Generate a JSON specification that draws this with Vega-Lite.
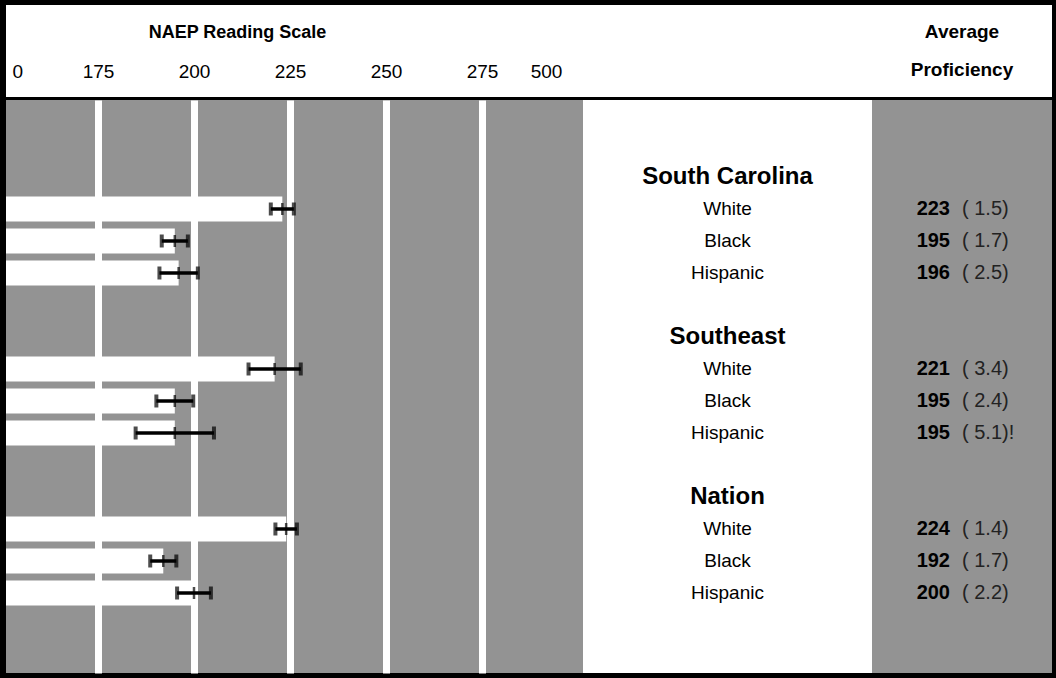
{
  "$schema": "https://vega.github.io/schema/vega-lite/v6.json",
  "background": "black",
  "padding": {"left": 6, "right": 4, "top": 5, "bottom": 5},
  "spacing": 3,
  "config": {"view": {"stroke": null}, "font": "Liberation Sans"},
  "datasets": {
    "rows": [
      {"key": "SC-White", "group": "South Carolina", "race": "White", "score": 223, "se": "( 1.5)", "lo": 220, "hi": 226},
      {"key": "SC-Black", "group": "South Carolina", "race": "Black", "score": 195, "se": "( 1.7)", "lo": 191.6, "hi": 198.4},
      {"key": "SC-Hispanic", "group": "South Carolina", "race": "Hispanic", "score": 196, "se": "( 2.5)", "lo": 191, "hi": 201},
      {"key": "SE-White", "group": "Southeast", "race": "White", "score": 221, "se": "( 3.4)", "lo": 214.2, "hi": 227.8},
      {"key": "SE-Black", "group": "Southeast", "race": "Black", "score": 195, "se": "( 2.4)", "lo": 190.2, "hi": 199.8},
      {"key": "SE-Hispanic", "group": "Southeast", "race": "Hispanic", "score": 195, "se": "( 5.1)!", "lo": 184.8, "hi": 205.2},
      {"key": "NA-White", "group": "Nation", "race": "White", "score": 224, "se": "( 1.4)", "lo": 221.2, "hi": 226.8},
      {"key": "NA-Black", "group": "Nation", "race": "Black", "score": 192, "se": "( 1.7)", "lo": 188.6, "hi": 195.4},
      {"key": "NA-Hispanic", "group": "Nation", "race": "Hispanic", "score": 200, "se": "( 2.2)", "lo": 195.6, "hi": 204.4}
    ],
    "groups": [
      {"key": "SC", "name": "South Carolina"},
      {"key": "SE", "name": "Southeast"},
      {"key": "NA", "name": "Nation"}
    ]
  },
  "vconcat": [
    {
      "spacing": 0,
      "hconcat": [
        {
          "width": 577,
          "height": 92,
          "view": {"fill": "white", "stroke": null},
          "data": {"name": "rows"},
          "mark": {"type": "point", "opacity": 0},
          "encoding": {
            "x": {
              "field": "score",
              "type": "quantitative",
              "scale": {"type": "linear", "domain": [0, 175, 275, 500], "range": [0, 92, 476, 540], "nice": false, "zero": false},
              "axis": {
                "orient": "top",
                "offset": -78,
                "values": [0, 175, 200, 225, 250, 275, 500],
                "labelFontSize": 19,
                "labelColor": "black",
                "labelPadding": 2,
                "labelFlush": false,
                "labelOverlap": false,
                "labelBound": false,
                "labelAlign": {"condition": {"test": "datum.value === 0", "value": "left"}, "value": "center"},
                "labelOffset": {"condition": {"test": "datum.value === 0", "value": 6}, "value": 0},
                "domain": false,
                "ticks": false,
                "grid": false,
                "title": "NAEP Reading Scale",
                "titleFontSize": 18,
                "titleFontWeight": "bold",
                "titleColor": "black",
                "titlePadding": 21,
                "titleX": 231
              }
            }
          }
        },
        {
          "width": 289,
          "height": 92,
          "view": {"fill": "white", "stroke": null},
          "data": {"values": [{"t": ""}]},
          "mark": {"type": "text"},
          "encoding": {"text": {"field": "t"}}
        },
        {
          "width": 180,
          "height": 92,
          "view": {"fill": "white", "stroke": null},
          "data": {"values": [{"line": "Average"}, {"line": "Proficiency"}]},
          "mark": {"type": "text", "fontSize": 19, "fontWeight": "bold", "color": "black", "baseline": "middle"},
          "encoding": {
            "y": {"field": "line", "type": "nominal", "scale": {"type": "band", "domain": ["Average", "Proficiency"], "paddingInner": 0, "paddingOuter": 0.227}, "axis": null},
            "text": {"field": "line"}
          }
        }
      ]
    },
    {
      "spacing": 0,
      "hconcat": [
        {
          "width": 577,
          "height": 573,
          "view": {"fill": "#939393", "stroke": null},
          "data": {"name": "rows"},
          "encoding": {
            "y": {
              "field": "key",
              "type": "nominal",
              "scale": {"type": "band", "domain": ["b0", "SC", "SC-White", "SC-Black", "SC-Hispanic", "b1", "SE", "SE-White", "SE-Black", "SE-Hispanic", "b2", "NA", "NA-White", "NA-Black", "NA-Hispanic", "b3", "b4"], "paddingInner": 0, "paddingOuter": 0.453, "align": 1},
              "axis": null
            }
          },
          "layer": [
            {
              "mark": {"type": "bar", "color": "white", "height": {"band": 0.78}},
              "encoding": {
                "x": {
                  "field": "score",
                  "type": "quantitative",
                  "scale": {"type": "linear", "domain": [0, 175, 275, 500], "range": [0, 92, 476, 540], "nice": false, "zero": false},
                  "axis": {"orient": "top", "values": [175, 200, 225, 250, 275], "labels": false, "ticks": false, "domain": false, "grid": true, "gridColor": "white", "gridWidth": 7, "gridOpacity": 1, "title": null}
                }
              }
            },
            {
              "mark": {"type": "rule", "color": "black", "strokeWidth": 3.5},
              "encoding": {"x": {"field": "lo", "type": "quantitative"}, "x2": {"field": "hi"}}
            },
            {
              "mark": {"type": "tick", "color": "black", "thickness": 4, "size": 13},
              "encoding": {"x": {"field": "lo", "type": "quantitative"}}
            },
            {
              "mark": {"type": "tick", "color": "black", "thickness": 4, "size": 13},
              "encoding": {"x": {"field": "hi", "type": "quantitative"}}
            },
            {
              "mark": {"type": "tick", "color": "black", "thickness": 2.5, "size": 12},
              "encoding": {"x": {"field": "score", "type": "quantitative"}}
            }
          ]
        },
        {
          "width": 289,
          "height": 573,
          "view": {"fill": "white", "stroke": null},
          "encoding": {
            "y": {
              "field": "key",
              "type": "nominal",
              "scale": {"type": "band", "domain": ["b0", "SC", "SC-White", "SC-Black", "SC-Hispanic", "b1", "SE", "SE-White", "SE-Black", "SE-Hispanic", "b2", "NA", "NA-White", "NA-Black", "NA-Hispanic", "b3", "b4"], "paddingInner": 0, "paddingOuter": 0.453, "align": 1},
              "axis": null
            }
          },
          "layer": [
            {
              "data": {"name": "groups"},
              "mark": {"type": "text", "fontSize": 24, "fontWeight": "bold", "color": "black", "baseline": "middle"},
              "encoding": {"text": {"field": "name"}}
            },
            {
              "data": {"name": "rows"},
              "mark": {"type": "text", "fontSize": 19, "color": "black", "baseline": "middle"},
              "encoding": {"text": {"field": "race"}}
            }
          ]
        },
        {
          "width": 180,
          "height": 573,
          "view": {"fill": "#939393", "stroke": null},
          "data": {"name": "rows"},
          "encoding": {
            "y": {
              "field": "key",
              "type": "nominal",
              "scale": {"type": "band", "domain": ["b0", "SC", "SC-White", "SC-Black", "SC-Hispanic", "b1", "SE", "SE-White", "SE-Black", "SE-Hispanic", "b2", "NA", "NA-White", "NA-Black", "NA-Hispanic", "b3", "b4"], "paddingInner": 0, "paddingOuter": 0.453, "align": 1},
              "axis": null
            }
          },
          "layer": [
            {
              "mark": {"type": "text", "fontSize": 20, "fontWeight": "bold", "color": "black", "baseline": "middle", "align": "right", "dx": -12},
              "encoding": {"text": {"field": "score", "type": "quantitative"}}
            },
            {
              "mark": {"type": "text", "fontSize": 20, "color": "#222222", "baseline": "middle", "align": "left", "dx": 0},
              "encoding": {"text": {"field": "se"}}
            }
          ]
        }
      ]
    }
  ]
}
